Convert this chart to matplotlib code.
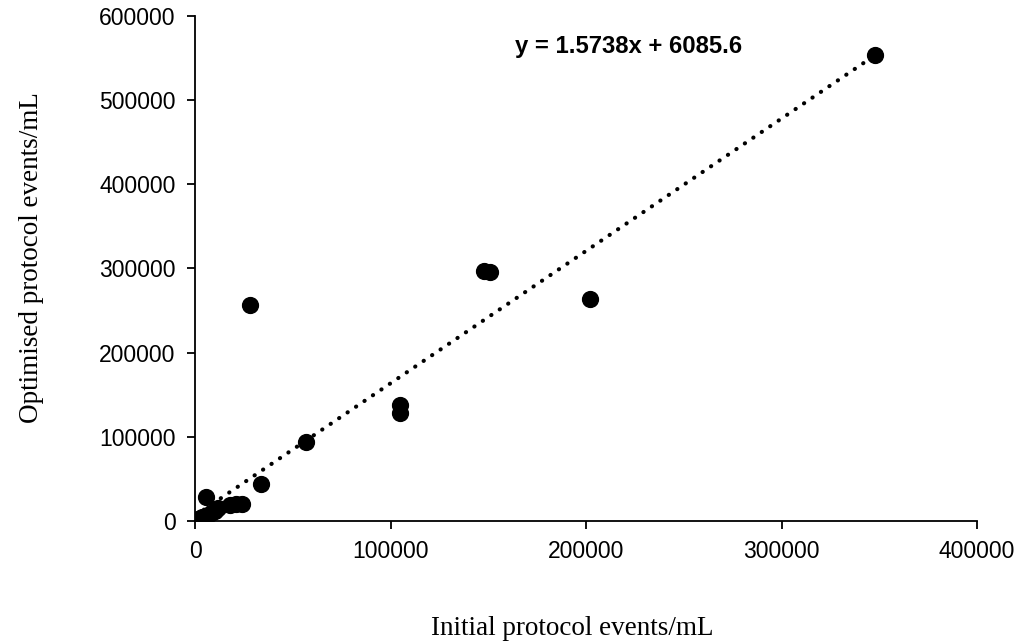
import numpy as np
import matplotlib
matplotlib.use('Agg')
import matplotlib.pyplot as plt

# Events/mL
initial = [348000, 148000, 151000, 202000, 28000, 105000, 105000, 57000, 34000,
           5500, 18000, 21000, 24000, 12000, 10000, 8000, 6000, 3500, 1500, 500, 200]
optimised = [554000, 297000, 296000, 264000, 256000, 138000, 128000, 94000, 44000,
             28000, 19000, 20000, 20000, 15000, 12000, 9000, 6000, 4000, 2000, 1000, 500]

# Trendline as printed on the chart
slope = 1.5738
intercept = 6085.6

fig = plt.figure(figsize=(10.21, 6.43), dpi=100)
ax = fig.add_axes([0.191, 0.190, 0.766, 0.785])

ax.scatter(initial, optimised, s=130, color='black', zorder=3)

xs = np.array([min(initial), max(initial)])
ax.plot(xs, slope * xs + intercept, linestyle=(0, (0.05, 2.4)), linewidth=3.0,
        color='black', dash_capstyle='round', zorder=2)

ax.text(163500, 563500, f'y = {slope}x + {intercept}', fontsize=17.2, fontweight='bold',
        family='Liberation Sans', va='center', ha='left')

ax.set_xlim(0, 400000)
ax.set_ylim(0, 600000)
ax.set_xticks([0, 100000, 200000, 300000, 400000])
ax.set_yticks(np.arange(0, 600001, 100000))

for side in ['top', 'right']:
    ax.spines[side].set_visible(False)
for side in ['left', 'bottom']:
    ax.spines[side].set_linewidth(1.3)

ax.tick_params(direction='out', length=6, width=1.3, labelsize=16.5, pad=8)
for lab in ax.get_xticklabels() + ax.get_yticklabels():
    lab.set_family('Liberation Sans')

ax.set_xlabel('Initial protocol events/mL', family='Liberation Serif', fontsize=19.5, labelpad=38)
ax.set_ylabel('Optimised protocol events/mL', family='Liberation Serif', fontsize=19.5, labelpad=40)
ax.xaxis.label.set_x(0.482)
ax.yaxis.label.set_y(0.521)

fig.savefig('out.png', dpi=100)
